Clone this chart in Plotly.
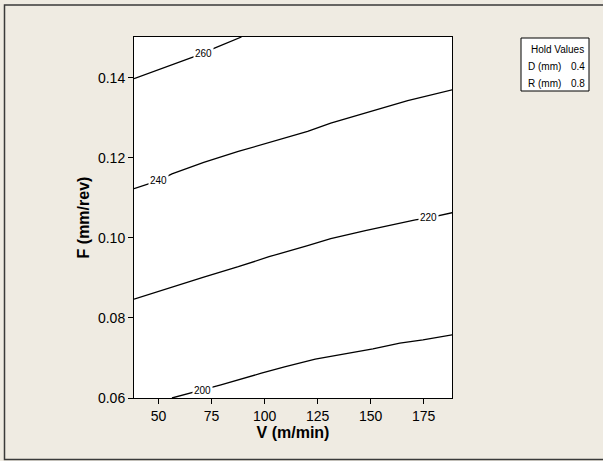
import plotly.graph_objects as go

# Contour lines (V in m/min, F in mm/rev)
v200 = [56.3, 64.9, 71.3, 79.4, 98.5, 109.4, 123.9, 134.8, 151.1, 163.8, 174.7, 188.5]
f200 = [0.0600, 0.0612, 0.0622, 0.0633, 0.0662, 0.0678, 0.0697, 0.0707, 0.0723, 0.0737, 0.0745, 0.0758]

v220 = [38.4, 56.7, 71.3, 87.6, 102.1, 120.3, 131.2, 147.5, 171.1, 177.4, 182.9, 188.5]
f220 = [0.0847, 0.0878, 0.0902, 0.0928, 0.0953, 0.0981, 0.0998, 0.1018, 0.1045, 0.1050, 0.1056, 0.1063]

v240 = [38.4, 49.9, 56.3, 71.3, 87.6, 102.1, 120.3, 131.2, 147.5, 167.5, 188.5]
f240 = [0.1123, 0.1143, 0.1160, 0.1189, 0.1216, 0.1238, 0.1266, 0.1287, 0.1313, 0.1343, 0.1370]

v260 = [38.4, 64.9, 71.0, 75.8, 89.1]
f260 = [0.1398, 0.1449, 0.1461, 0.1473, 0.1502]

levels = ["200", "220", "240", "260"]
label_v = [70.9, 177.4, 49.9, 71.0]
label_f = [0.0620, 0.1050, 0.1143, 0.1461]

x_ticks = [50, 75, 100, 125, 150, 175]
y_ticks = [0.06, 0.08, 0.10, 0.12, 0.14]

hold_names = ["D (mm)", "R (mm)"]
hold_values = ["0.4", "0.8"]

FONT = "Liberation Sans, Arial, sans-serif"
BG = "#EFEBE2"

fig = go.Figure()
for vx, fy in [(v200, f200), (v220, f220), (v240, f240), (v260, f260)]:
    fig.add_trace(go.Scatter(x=vx, y=fy, mode="lines",
                             line=dict(color="black", width=1.3),
                             showlegend=False, hoverinfo="skip"))

annotations = []
for lab, lv, lf in zip(levels, label_v, label_f):
    annotations.append(dict(x=lv, y=lf, xref="x", yref="y", text=lab, showarrow=False,
                            font=dict(family=FONT, size=10, color="black"),
                            bgcolor="white", borderpad=1))

# Plot area: x 134..452 px, y 37..398 px
PW, PH = 318.0, 361.0
def px(xp):
    return (xp - 134) / PW
def py(yp):
    return (398 - yp) / PH

annotations.append(dict(x=px(557), y=py(49), xref="paper", yref="paper", text="Hold Values",
                        showarrow=False, xanchor="center", yanchor="middle",
                        font=dict(family=FONT, size=10, color="black")))
for i, (nm, vl) in enumerate(zip(hold_names, hold_values)):
    yy = py(66 + 17 * i)
    annotations.append(dict(x=px(526), y=yy, xref="paper", yref="paper", text=nm,
                            showarrow=False, xanchor="left", yanchor="middle",
                            font=dict(family=FONT, size=10, color="black")))
    annotations.append(dict(x=px(587), y=yy, xref="paper", yref="paper", text=vl,
                            showarrow=False, xanchor="right", yanchor="middle",
                            font=dict(family=FONT, size=10, color="black")))

shapes = [
    dict(type="rect", xref="paper", yref="paper", x0=px(4.5), x1=px(615), y0=py(459.5), y1=py(5),
         line=dict(color="#3a3a3a", width=1.5), fillcolor="rgba(0,0,0,0)", layer="below"),
    dict(type="rect", xref="paper", yref="paper", x0=px(521), x1=px(589), y0=py(91), y1=py(38),
         line=dict(color="black", width=1), fillcolor="white", layer="below"),
]

fig.update_layout(
    width=603, height=461,
    margin=dict(l=134, r=151, t=37, b=63, autoexpand=False),
    paper_bgcolor=BG, plot_bgcolor="white",
    font=dict(family=FONT, size=14, color="black"),
    annotations=annotations, shapes=shapes,
    xaxis=dict(range=[38.4, 188.4], tickvals=x_ticks, ticks="outside", ticklen=5,
               tickcolor="black", showline=True, linecolor="black", linewidth=1, mirror=True,
               showgrid=False, zeroline=False, tickfont=dict(size=14),
               title=dict(text="<b>V (m/min)</b>", standoff=4,
                          font=dict(family=FONT, size=16))),
    yaxis=dict(range=[0.06, 0.1502], tickvals=y_ticks, tickformat=".2f", ticks="outside",
               ticklen=5, tickcolor="black", showline=True, linecolor="black", linewidth=1,
               mirror=True, showgrid=False, zeroline=False, tickfont=dict(size=14),
               title=dict(text="<b>F (mm/rev)</b>", standoff=4,
                          font=dict(family=FONT, size=16))),
)

fig.write_html("out.html", config={"displayModeBar": False},
               post_script="document.body.style.margin='0';")
